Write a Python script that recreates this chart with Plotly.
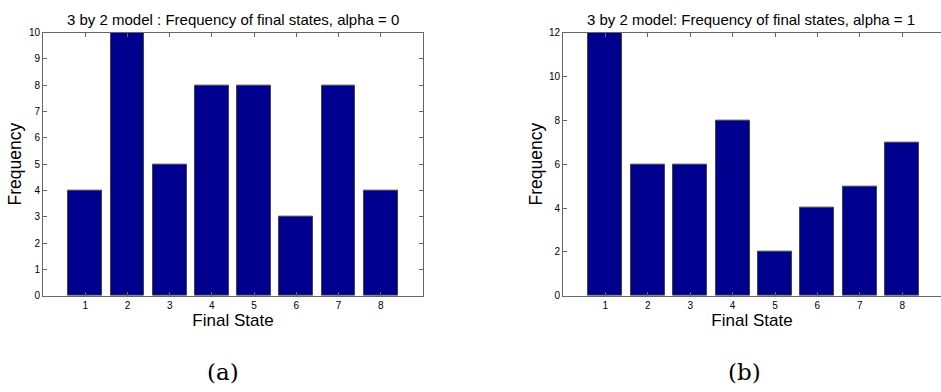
import plotly.graph_objects as go

states = [1, 2, 3, 4, 5, 6, 7, 8]
freq_alpha0 = [4, 10, 5, 8, 8, 3, 8, 4]
freq_alpha1 = [12, 6, 6, 8, 2, 4, 5, 7]
title_a = "3 by 2 model : Frequency of final states, alpha = 0"
title_b = "3 by 2 model: Frequency of final states, alpha = 1"
captions = ["(a)", "(b)"]

BAR = "#00008F"
EDGE = "#444444"
AX = "#666666"
FONT = "Liberation Sans, Arial, sans-serif"
SERIF = "DejaVu Serif, Liberation Serif, serif"

fig = go.Figure()
fig.add_trace(go.Bar(x=states, y=freq_alpha0, width=0.8, marker=dict(color=BAR, line=dict(color=EDGE, width=1)),
                     xaxis="x", yaxis="y", showlegend=False))
fig.add_trace(go.Bar(x=states, y=freq_alpha1, width=0.8, marker=dict(color=BAR, line=dict(color=EDGE, width=1)),
                     xaxis="x2", yaxis="y2", showlegend=False))

ydom = [1 - 299 / 392, 1 - 27.5 / 392]
xd1 = [43 / 941, 423 / 941]
xd2 = [563 / 941, 1.0]

common_x = dict(tickmode="array", tickvals=states, ticktext=[str(s) for s in states],
                ticks="inside", ticklen=4, tickcolor=AX, showline=True, linecolor=AX, linewidth=1,
                mirror="ticks", showgrid=False, zeroline=False,
                tickfont=dict(family=FONT, size=10, color="black"),
                title=dict(text="Final State", font=dict(family=FONT, size=17, color="black"), standoff=3))
common_y = dict(ticks="inside", ticklen=4, tickcolor=AX, showline=True, linecolor=AX, linewidth=1,
                showgrid=False, zeroline=False, tickfont=dict(family=FONT, size=10, color="black"))

ycenter = 1 - 163 / 392

fig.update_layout(
    width=941, height=392,
    margin=dict(l=0, r=0, t=0, b=0),
    paper_bgcolor="white", plot_bgcolor="white",
    bargap=0,
    xaxis=dict(domain=xd1, range=[0, 9], anchor="y", **common_x),
    yaxis=dict(domain=ydom, range=[0, 10], dtick=1, anchor="x", mirror="ticks", **common_y),
    xaxis2=dict(domain=xd2, range=[0, 378 / 42.4], anchor="y2", **common_x),
    yaxis2=dict(domain=ydom, range=[0, 12], dtick=2, anchor="x2", mirror=False, **common_y),
    annotations=[
        dict(text=title_a, x=233 / 941, y=1 - 14 / 392, xref="paper", yref="paper",
             xanchor="center", yanchor="middle", showarrow=False,
             font=dict(family=FONT, size=15, color="black")),
        dict(text=title_b, x=751 / 941, y=1 - 14 / 392, xref="paper", yref="paper",
             xanchor="center", yanchor="middle", showarrow=False,
             font=dict(family=FONT, size=15, color="black")),
        dict(text="Frequency", x=15.5 / 941, y=ycenter, xref="paper", yref="paper", textangle=-90,
             xanchor="center", yanchor="middle", showarrow=False,
             font=dict(family=FONT, size=17.5, color="black")),
        dict(text="Frequency", x=536.5 / 941, y=ycenter, xref="paper", yref="paper", textangle=-90,
             xanchor="center", yanchor="middle", showarrow=False,
             font=dict(family=FONT, size=17.5, color="black")),
        dict(text=captions[0], x=223 / 941, y=1 - 378 / 392, xref="paper", yref="paper",
             xanchor="center", yanchor="middle", showarrow=False,
             font=dict(family=SERIF, size=23, color="black")),
        dict(text=captions[1], x=744 / 941, y=1 - 378 / 392, xref="paper", yref="paper",
             xanchor="center", yanchor="middle", showarrow=False,
             font=dict(family=SERIF, size=23, color="black")),
    ],
)

fig.write_html("out.html")
